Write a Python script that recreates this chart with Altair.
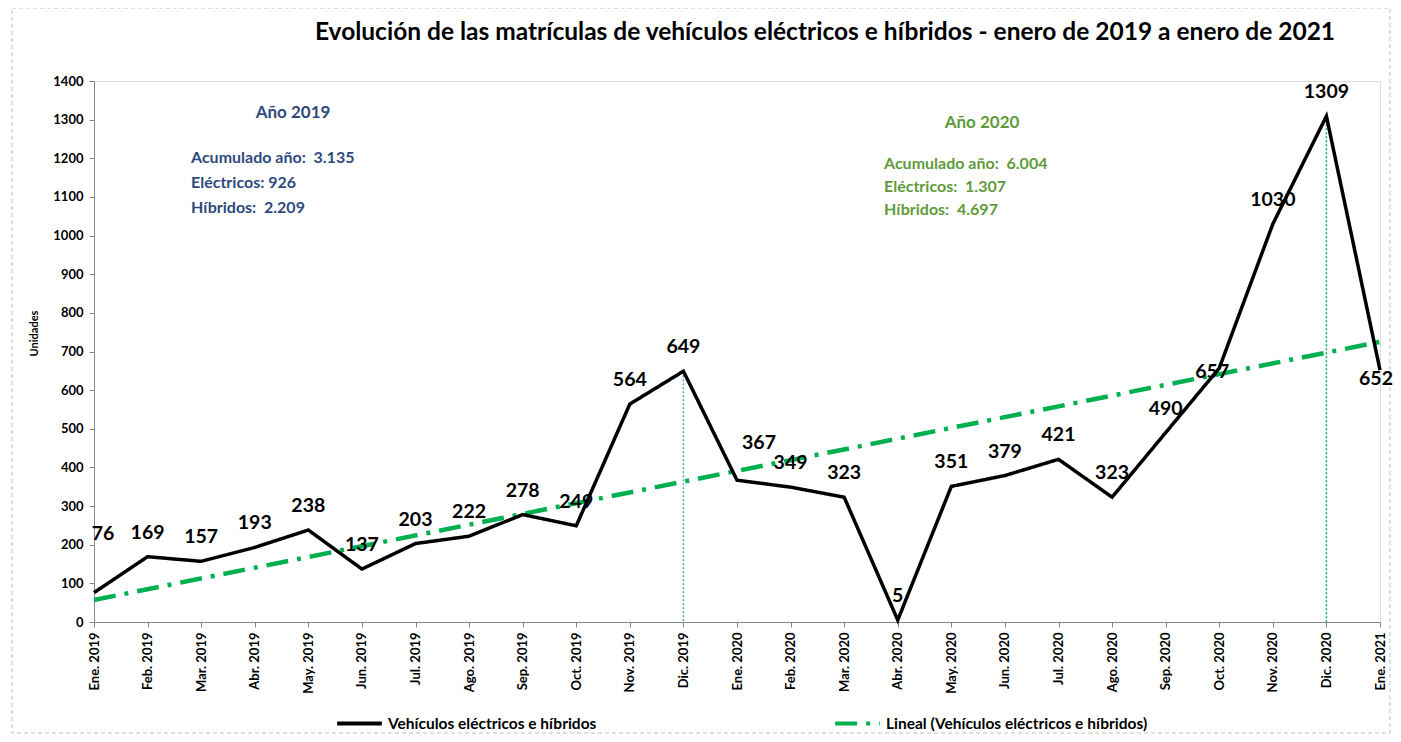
import altair as alt
import pandas as pd

months = ["Ene. 2019", "Feb. 2019", "Mar. 2019", "Abr. 2019", "May. 2019", "Jun. 2019",
          "Jul. 2019", "Ago. 2019", "Sep. 2019", "Oct. 2019", "Nov. 2019", "Dic. 2019",
          "Ene. 2020", "Feb. 2020", "Mar. 2020", "Abr. 2020", "May. 2020", "Jun. 2020",
          "Jul. 2020", "Ago. 2020", "Sep. 2020", "Oct. 2020", "Nov. 2020", "Dic. 2020",
          "Ene. 2021"]
values = [76, 169, 157, 193, 238, 137, 203, 222, 278, 249, 564, 649,
          367, 349, 323, 5, 351, 379, 421, 323, 490, 657, 1030, 1309, 652]
trend_months = ["Ene. 2019", "Ene. 2021"]
trend_values = [57, 725]
y_ticks = list(range(0, 1401, 100))

NB = "\u00a0"
serie_main = "Vehículos eléctricos e híbridos"
serie_trend = "Lineal (Vehículos eléctricos e híbridos)"
title_text = "Evolución de las matrículas de vehículos eléctricos e híbridos - enero de 2019 a enero de 2021"
ann_2019_head = "Año 2019"
ann_2019_lines = ["Acumulado año:" + NB + " 3.135", "Eléctricos: 926", "Híbridos:" + NB + " 2.209"]
ann_2020_head = "Año 2020"
ann_2020_lines = ["Acumulado año:" + NB + " 6.004", "Eléctricos:" + NB + " 1.307", "Híbridos:" + NB + " 4.697"]

FONT = "Lato"
BLUE = "#2E4A7D"
GREEN_TXT = "#5F9B3B"
GREEN = "#00B050"

df = pd.DataFrame({"idx": list(range(len(months))), "mes": months, "valor": values, "serie": serie_main})
trend = pd.DataFrame({"idx": [months.index(m) for m in trend_months], "valor": trend_values,
                      "serie": serie_trend})
lines = pd.concat([df, trend], ignore_index=True)

label_expr = "[" + ",".join("'" + m + "'" for m in months) + "][datum.value]"

x_enc = alt.X("idx:Q", title=None,
              scale=alt.Scale(domain=[0, len(months) - 1], nice=False, zero=False),
              axis=alt.Axis(values=list(range(len(months))), labelExpr=label_expr, labelAngle=270,
                            labelFont=FONT, labelFontSize=13, labelFontWeight="bold", labelColor="black",
                            labelPadding=5, tickSize=5, tickColor="#868686", domainColor="#868686",
                            grid=False, labelOverlap=False, labelBound=False, labelFlush=False))
y_enc = alt.Y("valor:Q", title="Unidades",
              scale=alt.Scale(domain=[0, 1400], nice=False),
              axis=alt.Axis(values=y_ticks, format="d", labelFont=FONT, labelFontSize=13,
                            labelFontWeight="bold",
                            labelColor="black", labelPadding=6, tickSize=5, tickColor="#868686",
                            domainColor="#868686", grid=False, titleFont=FONT, titleFontSize=11,
                            titleFontWeight="bold", titleColor="black", titleX=-55, titleY=252))

leg = alt.Legend(orient="none", legendX=241, legendY=618, direction="horizontal", title=None,
                 symbolType="stroke", symbolSize=2000, symbolStrokeWidth=4,
                 labelFont=FONT, labelFontSize=15.5, labelFontWeight="bold", labelColor="black",
                 columnPadding=230, labelLimit=400, labelOffset=4)
color_enc = alt.Color("serie:N", scale=alt.Scale(domain=[serie_main, serie_trend], range=["black", GREEN]),
                      legend=leg)
dash_enc = alt.StrokeDash("serie:N", scale=alt.Scale(domain=[serie_main, serie_trend],
                                                    range=[[1, 0], [22, 9, 4, 9]]), legend=leg)

base = alt.Chart(lines)
one = alt.Data(values=[{}])

frame = alt.Chart(one).mark_rect(fill=None, stroke="#BFBFBF", strokeDash=[4, 3],
                                 strokeWidth=1).encode(
    x=alt.value(-82), x2=alt.value(1296), y=alt.value(-73), y2=alt.value(652))

title = alt.Chart(one).mark_text(text=title_text, font=FONT, fontSize=24.5, fontWeight="bold", color="black",
                                 align="center", baseline="middle").encode(
    x=alt.value(731), y=alt.value(-48))

rule19 = alt.Chart(df).transform_filter(alt.datum.mes == "Dic. 2019").mark_rule(
    color="#5B9BD5", strokeDash=[2, 2], strokeWidth=1.5).encode(x=x_enc, y=y_enc, y2=alt.datum(0))
rule20 = alt.Chart(df).transform_filter(alt.datum.mes == "Dic. 2020").mark_rule(
    color=GREEN, strokeDash=[2, 2], strokeWidth=1.5).encode(x=x_enc, y=y_enc, y2=alt.datum(0))

main_line = base.transform_filter(alt.datum.serie == serie_main).mark_line(strokeWidth=3.5).encode(
    x=x_enc, y=y_enc, color=color_enc, strokeDash=dash_enc)
trend_line = base.transform_filter(alt.datum.serie == serie_trend).mark_line(strokeWidth=4.5).encode(
    x=x_enc, y=y_enc, color=color_enc, strokeDash=dash_enc)

special = ["Ene. 2019", "Ene. 2020", "Oct. 2020", "Ene. 2021"]
txt = dict(font=FONT, fontSize=19.5, fontWeight="bold", color="black", baseline="middle", align="center")


def lab(filt, dx, dy):
    return alt.Chart(df).transform_filter(filt).mark_text(dx=dx, dy=dy, **txt).encode(
        x=x_enc, y=y_enc, text="valor:Q")


labels_main = lab(~alt.FieldOneOfPredicate(field="mes", oneOf=special), 0, -24)
lab_a = lab(alt.datum.mes == "Ene. 2019", 9, -59)
lab_b = lab(alt.datum.mes == "Ene. 2020", 22, -37)
lab_c = lab(alt.datum.mes == "Oct. 2020", -7, 4)
lab_d = lab(alt.datum.mes == "Ene. 2021", -4, 9)

h19 = alt.Chart(one).mark_text(text=ann_2019_head, font=FONT, fontSize=17, fontWeight="bold", color=BLUE,
                               align="center", baseline="middle").encode(x=alt.value(199), y=alt.value(32))
b19 = alt.Chart(one).mark_text(text=ann_2019_lines, font=FONT, fontSize=16, fontWeight="bold", color=BLUE,
                               align="left", baseline="top", lineHeight=25).encode(
    x=alt.value(97), y=alt.value(69))
h20 = alt.Chart(one).mark_text(text=ann_2020_head, font=FONT, fontSize=17, fontWeight="bold",
                               color=GREEN_TXT, align="center", baseline="middle").encode(
    x=alt.value(888), y=alt.value(42))
b20 = alt.Chart(one).mark_text(text=ann_2020_lines, font=FONT, fontSize=16, fontWeight="bold",
                               color=GREEN_TXT, align="left", baseline="top", lineHeight=23).encode(
    x=alt.value(790), y=alt.value(75))

chart = alt.layer(frame, title, rule19, rule20, trend_line, main_line, labels_main, lab_a, lab_b, lab_c, lab_d,
                  h19, b19, h20, b20).properties(
    width=1286, height=541, autosize="none",
    padding={"left": 86, "top": 73, "right": 13, "bottom": 112},
).configure_view(stroke=None).configure(background="white")

chart.save("out.html", embed_options={"renderer": "svg", "actions": False})
